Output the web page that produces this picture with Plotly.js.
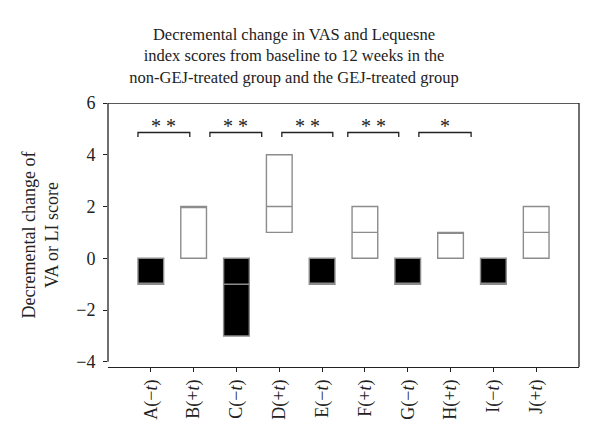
<!DOCTYPE html>
<html>
<head>
<meta charset="utf-8">
<script src="https://cdn.plot.ly/plotly-3.0.1.min.js"></script>
<style>
  html, body { margin: 0; padding: 0; background: #fff; }
  #myPlot { width: 600px; height: 444px; }
</style>
</head>
<body>
<div id="myPlot"></div>
<script>
// groups (without / with treatment)
const categories = ['A(−t)', 'B(+t)', 'C(−t)', 'D(+t)', 'E(−t)', 'F(+t)', 'G(−t)', 'H(+t)', 'I(−t)', 'J(+t)'];
const tickLabels = ['A(−<i>t</i>)', 'B(+<i>t</i>)', 'C(−<i>t</i>)', 'D(+<i>t</i>)', 'E(−<i>t</i>)',
                    'F(+<i>t</i>)', 'G(−<i>t</i>)', 'H(+<i>t</i>)', 'I(−<i>t</i>)', 'J(+<i>t</i>)'];

// box stats per group: min / median / max
const boxMin    = [-1, 0, -3, 1, -1, 0, -1, 0, -1, 0];
const boxMedian = [-1, 2, -1, 2, -1, 1, -1, 1, -1, 1];
const boxMax    = [ 0, 2,  0, 4,  0, 2,  0, 1,  0, 2];

// significance brackets (axis units) and their stars
const bracketFrom = [-0.30, 1.38, 3.06, 4.60, 6.26];
const bracketTo   = [ 0.91, 2.59, 4.25, 5.79, 7.48];
const bracketStars = ['* *', '* *', '* *', '* *', '*'];
const bracketY = 4.86;

const serif = 'Liberation Serif, Times New Roman, serif';
const grey = '#8c8c8c';

function pick(arr, odd) {
  return arr.filter((v, i) => (i % 2 === 1) === odd);
}

function boxTrace(odd, fill) {
  return {
    type: 'box',
    x: pick(categories, odd),
    q1: pick(boxMin, odd),
    median: pick(boxMedian, odd),
    q3: pick(boxMax, odd),
    lowerfence: pick(boxMin, odd),
    upperfence: pick(boxMax, odd),
    width: 0.6,
    whiskerwidth: 0,
    fillcolor: fill,
    line: { color: grey, width: 1.4 },
    hoverinfo: 'skip',
    showlegend: false
  };
}

const shapes = [];
const annotations = [];
for (let i = 0; i < bracketFrom.length; i++) {
  const a = bracketFrom[i];
  const b = bracketTo[i];
  shapes.push({
    type: 'path', xref: 'x', yref: 'y',
    path: `M${a},${bracketY - 0.17} L${a},${bracketY} L${b},${bracketY} L${b},${bracketY - 0.17}`,
    line: { color: '#222', width: 1.3 }
  });
  annotations.push({
    x: (a + b) / 2, y: bracketY + 0.26, xref: 'x', yref: 'y',
    text: bracketStars[i], showarrow: false,
    font: { family: serif, size: 20, color: '#222' }
  });
}

// frame: left axis only from -4 to 6, top and right borders
shapes.push({ type: 'line', xref: 'paper', yref: 'y', x0: 0, x1: 0, y0: -4, y1: 6, line: { color: '#222', width: 1.3 } });
shapes.push({ type: 'line', xref: 'paper', yref: 'y', x0: 0, x1: 1, y0: 6, y1: 6, line: { color: '#222', width: 1.3 } });
shapes.push({ type: 'line', xref: 'paper', yref: 'paper', x0: 1, x1: 1, y0: 0, y1: 1, line: { color: '#222', width: 1.3 } });

const layout = {
  width: 600,
  height: 444,
  margin: { l: 108, r: 21, t: 103, b: 77 },
  paper_bgcolor: '#fff',
  plot_bgcolor: '#fff',
  boxmode: 'overlay',
  font: { family: serif, color: '#222' },
  title: {
    text: 'Decremental change in VAS and Lequesne<br>index scores from baseline to 12 weeks in the<br>non-GEJ-treated group and the GEJ-treated group',
    font: { family: serif, size: 16.5, color: '#222' },
    x: 0.49, xref: 'container', xanchor: 'center',
    yref: 'container', y: 0.91, yanchor: 'middle'
  },
  xaxis: {
    type: 'category',
    categoryorder: 'array',
    categoryarray: categories,
    tickvals: categories,
    ticktext: tickLabels,
    range: [-1, 10],
    tickangle: -90,
    ticks: 'outside', ticklen: 4, tickcolor: '#222',
    showline: true, linecolor: '#222', linewidth: 1.3,
    showgrid: false, zeroline: false,
    tickfont: { family: serif, size: 18, color: '#222' }
  },
  yaxis: {
    range: [-4.2, 6],
    tickvals: [-4, -2, 0, 2, 4, 6],
    ticktext: ['−4', '−2', '0', '2', '4', '6'],
    ticks: 'outside', ticklen: 4, tickcolor: '#222',
    ticklabelstandoff: 4,
    showline: false, showgrid: false, zeroline: false,
    tickfont: { family: serif, size: 18, color: '#222' },
    title: {
      text: 'Decremental change of<br>VA or LI score',
      font: { family: serif, size: 18, color: '#222' },
      standoff: 12
    }
  },
  shapes: shapes,
  annotations: annotations
};

Plotly.newPlot('myPlot', [boxTrace(false, '#000'), boxTrace(true, '#fff')], layout, { displayModeBar: false, staticPlot: true });
</script>
</body>
</html>
